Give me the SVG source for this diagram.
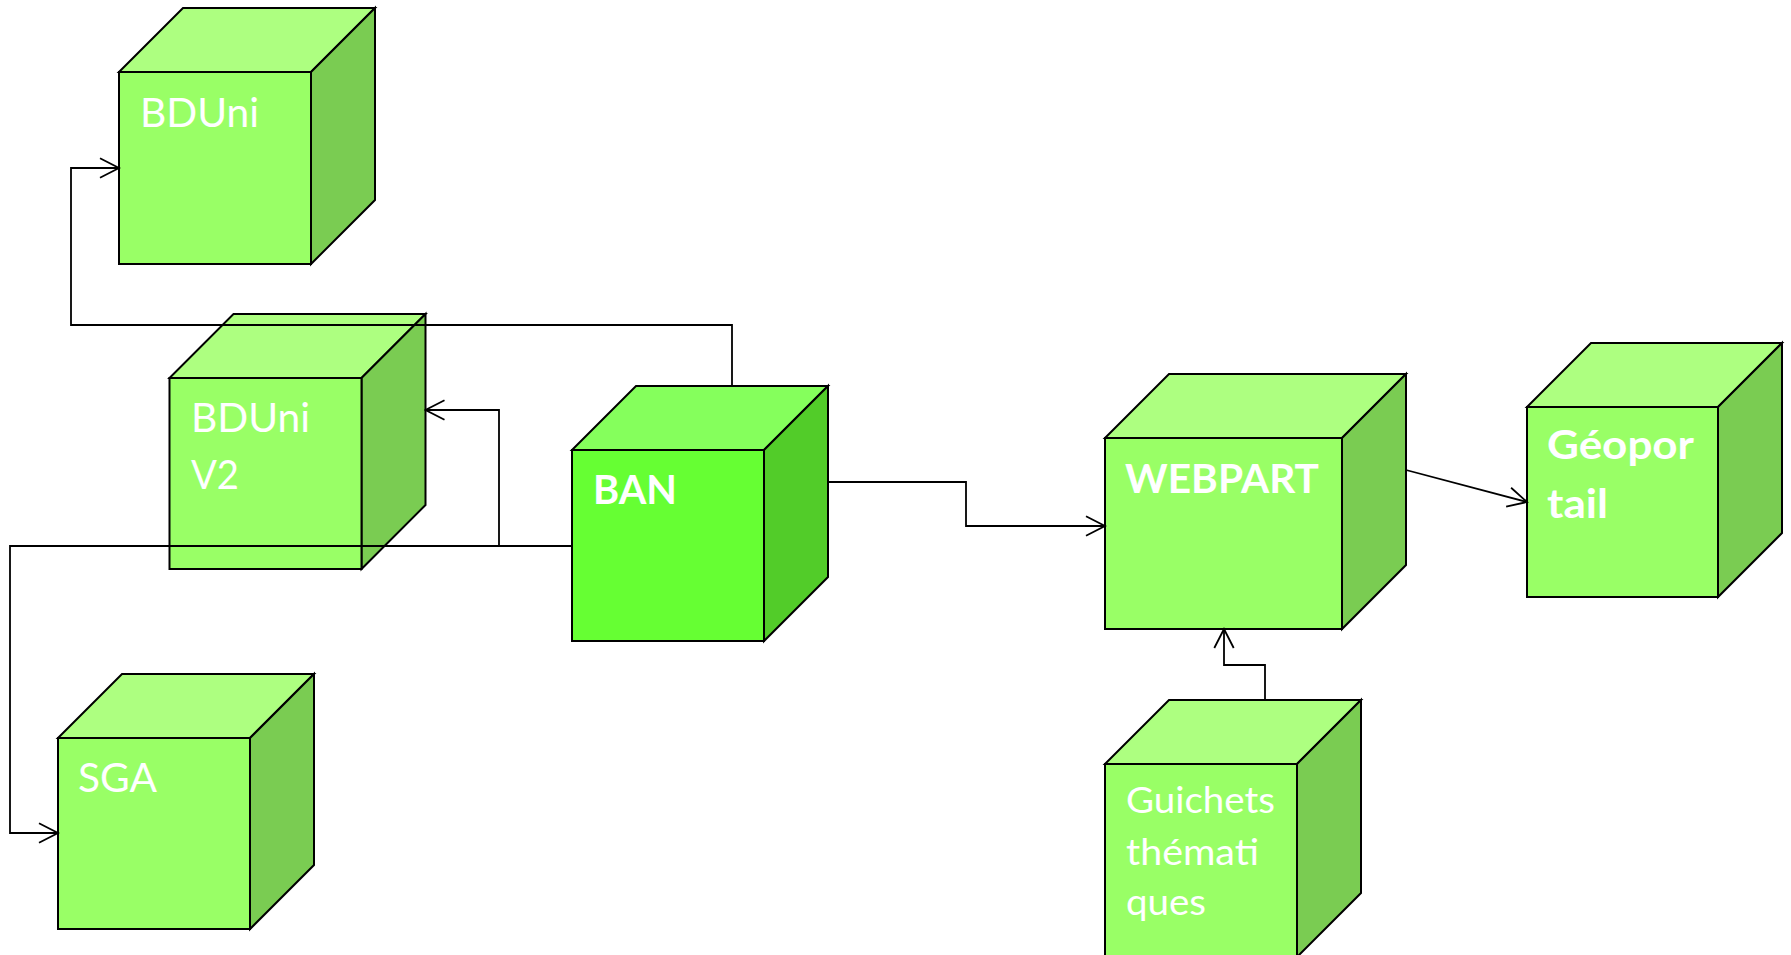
<svg xmlns="http://www.w3.org/2000/svg" width="1791" height="955" viewBox="0 0 1791 955">
<style>
.front{fill:#99FF66;stroke:#000;stroke-width:2}
.top{fill:#ADFF80;stroke:#000;stroke-width:2}
.side{fill:#7ACC52;stroke:#000;stroke-width:2}
.bfront{fill:#66FF33;stroke:#000;stroke-width:2}
.btop{fill:#85FF5C;stroke:#000;stroke-width:2}
.bside{fill:#52CC29;stroke:#000;stroke-width:2}
.lbl{font-family:Lato,"Open Sans","Liberation Sans",sans-serif;fill:#fff;font-size:41px}
.bold{font-weight:bold}
.sm{font-size:36px}
.conn{fill:none;stroke:#000;stroke-width:1.8}
</style>
<defs>
<marker id="arr" markerUnits="userSpaceOnUse" viewBox="0 0 22 22" refX="20" refY="11" markerWidth="22" markerHeight="22" orient="auto">
<path d="M1,1.3 L20,11 L1,20.7" fill="none" stroke="#000" stroke-width="1.8"/>
</marker>
</defs>
<rect width="1791" height="955" fill="#fff"/>

<g id="bduni">
<polygon class="top" points="119,72 183,8 375,8 311,72"/>
<polygon class="side" points="311,72 375,8 375,200 311,264"/>
<rect class="front" x="119" y="72" width="192" height="192"/>
<text class="lbl" x="140" y="127" textLength="119" lengthAdjust="spacingAndGlyphs">BDUni</text>
</g>

<g id="bduni-v2">
<polygon class="top" points="169.5,378 233.5,314 425.5,314 361.5,378"/>
<polygon class="side" points="361.5,378 425.5,314 425.5,505 361.5,569"/>
<rect class="front" x="169.5" y="378" width="192" height="191"/>
<text class="lbl" x="191" y="432" textLength="119" lengthAdjust="spacingAndGlyphs">BDUni</text>
<text class="lbl" x="191" y="489" textLength="48" lengthAdjust="spacingAndGlyphs">V2</text>
</g>

<g id="ban">
<polygon class="btop" points="572,450 636,386 828,386 764,450"/>
<polygon class="bside" points="764,450 828,386 828,577 764,641"/>
<rect class="bfront" x="572" y="450" width="192" height="191"/>
<text class="lbl bold" x="593" y="504" textLength="84" lengthAdjust="spacingAndGlyphs">BAN</text>
</g>

<g id="sga">
<polygon class="top" points="58,738 122,674 314,674 250,738"/>
<polygon class="side" points="250,738 314,674 314,865 250,929"/>
<rect class="front" x="58" y="738" width="192" height="191"/>
<text class="lbl" x="78" y="792" textLength="79" lengthAdjust="spacingAndGlyphs">SGA</text>
</g>

<g id="webpart">
<polygon class="top" points="1105,438 1169,374 1406,374 1342,438"/>
<polygon class="side" points="1342,438 1406,374 1406,565 1342,629"/>
<rect class="front" x="1105" y="438" width="237" height="191"/>
<text class="lbl bold" x="1125" y="493" textLength="194" lengthAdjust="spacingAndGlyphs">WEBPART</text>
</g>

<g id="geoportail">
<polygon class="top" points="1527,407 1591,343 1782,343 1718,407"/>
<polygon class="side" points="1718,407 1782,343 1782,533 1718,597"/>
<rect class="front" x="1527" y="407" width="191" height="190"/>
<text class="lbl bold" x="1547" y="459" textLength="147" lengthAdjust="spacingAndGlyphs">Géopor</text>
<text class="lbl bold" x="1547" y="518" textLength="61" lengthAdjust="spacingAndGlyphs">tail</text>
</g>

<g id="guichets">
<polygon class="top" points="1105,764 1169,700 1361,700 1297,764"/>
<polygon class="side" points="1297,764 1361,700 1361,893 1297,957"/>
<rect class="front" x="1105" y="764" width="192" height="193"/>
<text class="lbl sm" x="1126" y="813" textLength="149" lengthAdjust="spacingAndGlyphs">Guichets</text>
<text class="lbl sm" x="1126" y="865" textLength="133" lengthAdjust="spacingAndGlyphs">thémati</text>
<text class="lbl sm" x="1126" y="915" textLength="80" lengthAdjust="spacingAndGlyphs">ques</text>
</g>

<g id="connectors">
<polyline class="conn" points="732,386 732,325 71,325 71,168 119,168" marker-end="url(#arr)"/>
<polyline class="conn" points="572,546 499,546 499,410 425.5,410" marker-end="url(#arr)"/>
<polyline class="conn" points="499,546 10,546 10,833 58,833" marker-end="url(#arr)"/>
<polyline class="conn" points="828,482 966,482 966,526 1105,526" marker-end="url(#arr)"/>
<polyline class="conn" points="1406,470 1527,502" marker-end="url(#arr)"/>
<polyline class="conn" points="1265,700 1265,665 1224,665 1224,629" marker-end="url(#arr)"/>
</g>
</svg>
